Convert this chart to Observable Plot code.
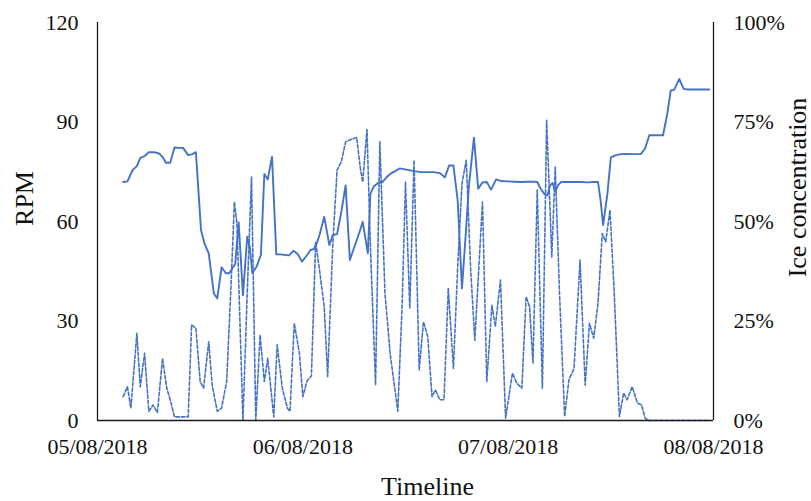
<!DOCTYPE html>
<html>
<head>
<meta charset="utf-8">
<script src="https://cdn.jsdelivr.net/npm/d3@7"></script>
<script src="https://cdn.jsdelivr.net/npm/@observablehq/plot@0.6"></script>
<style>
  html, body { margin: 0; padding: 0; background: #fff; }
  #chart { width: 811px; height: 501px; }
  #chart svg text { font-family: "Liberation Serif", "Times New Roman", serif; }
</style>
</head>
<body>
<div id="chart"></div>
<script>
// Shaft speed (RPM) and ice concentration (%) over three days, hours since 05/08/2018 00:00
const startDate = new Date(Date.UTC(2018, 7, 5));

const rpmHours = [3.0,3.5,4.1,4.6,5.0,5.5,6.0,6.6,7.2,7.6,8.0,8.5,9.0,9.5,10.0,10.6,11.1,11.5,12.1,12.5,
  13.0,13.6,14.0,14.5,15.0,15.4,15.9,16.1,16.5,17.0,17.5,17.8,18.1,18.6,19.1,19.5,19.9,20.4,20.9,21.4,
  22.0,22.4,22.9,23.4,23.9,24.5,24.9,25.3,25.7,26.0,26.5,27.1,27.5,28.0,28.5,29.0,29.5,30.1,30.6,31.0,
  31.6,31.9,32.3,32.8,33.3,33.8,34.3,34.8,35.3,35.8,36.4,37.0,37.8,38.6,39.3,40.0,40.6,41.1,41.6,42.1,
  42.6,43.1,43.4,44.0,44.5,45.0,45.5,46.0,46.6,47.2,47.9,48.7,49.5,50.3,51.0,51.4,51.8,52.2,52.6,52.9,
  53.2,53.5,53.8,54.2,55.0,55.7,56.5,57.3,57.9,58.5,58.8,59.1,59.6,60.0,60.6,61.2,61.8,62.4,62.9,63.5,
  64.0,64.5,65.1,65.6,66.1,66.6,67.0,67.4,68.0,68.5,69.0,69.8,70.6,71.5];
const rpmValues = [71.9,72.1,75.5,76.7,79.2,79.7,80.9,80.9,80.5,79.5,77.7,77.7,82.3,82.2,82.2,80.0,80.3,80.9,57.4,53.4,
  50.4,38.3,36.8,46.2,44.4,44.4,46.4,47.2,59.7,37.8,55.4,52.4,44.4,46.4,49.9,74.3,72.7,79.5,50.1,50.1,
  49.9,49.8,51.2,50.2,47.9,49.9,51.4,51.7,53.9,56.4,61.4,52.9,55.9,56.2,62.9,70.9,48.4,52.9,56.6,59.9,
  50.4,68.4,70.6,71.6,71.9,73.4,74.5,75.2,76.0,75.8,75.5,75.2,74.9,74.9,74.9,74.6,73.3,76.9,76.9,66.4,
  39.8,58.4,70.4,85.3,69.9,71.8,71.9,69.6,72.7,72.2,72.1,72.0,71.9,72.0,72.0,71.9,69.9,68.4,67.9,70.9,
  71.6,68.9,70.9,71.9,71.9,71.9,71.9,71.8,71.9,71.9,66.4,58.9,68.4,79.3,80.0,80.3,80.4,80.3,80.3,80.3,
  82.0,86.0,86.0,86.0,86.0,92.5,99.5,99.7,103.0,100.0,99.8,99.8,99.8,99.8];

const iceHours = [3.0,3.5,3.9,4.6,5.0,5.5,6.0,6.5,7.0,7.6,8.1,8.5,9.0,9.7,10.6,11.0,11.5,12.0,12.4,13.0,
  13.4,14.0,14.5,15.1,15.6,16.0,16.3,17.0,17.5,18.0,18.5,19.0,19.5,19.9,20.6,21.0,21.6,22.2,22.5,23.0,
  23.6,24.0,24.5,25.0,25.5,26.0,26.5,26.9,27.5,28.0,28.5,29.0,29.6,30.3,30.7,31.0,31.5,31.9,32.5,33.0,
  33.6,34.2,35.1,35.6,36.0,36.5,37.0,37.6,38.1,38.6,39.1,39.5,40.0,40.5,41.0,41.6,42.1,42.6,43.1,43.6,
  44.1,45.0,45.5,46.1,46.5,47.1,47.7,48.5,49.0,49.6,50.1,50.5,50.9,51.4,52.0,52.5,53.1,53.5,54.0,54.6,
  55.1,55.7,56.4,57.0,57.5,58.0,58.5,59.0,59.4,59.9,60.4,61.0,61.5,61.9,62.5,63.1,63.6,64.0,64.5,71.5];
const iceValues = [6.0,8.5,3.1,21.9,8.5,16.9,2.3,3.9,2.0,15.6,8.1,5.2,0.9,0.9,0.9,24.0,23.2,9.8,8.1,19.8,
  8.9,2.3,3.1,9.8,33.6,54.9,49.5,0,32.0,61.2,0,21.5,9.8,15.6,0.9,19.0,8.1,3.1,2.3,24.4,
  16.9,6.0,10.0,11.2,44.9,37.0,28.6,11.0,44.1,62.9,65.0,70.0,70.6,71.1,63.7,59.9,73.1,43.6,8.9,70.0,
  32.0,16.9,2.3,28.6,59.9,28.2,65.4,12.7,24.8,21.1,6.0,7.7,5.2,5.2,33.2,13.1,38.6,59.5,65.4,38.6,
  20.2,54.9,9.8,29.0,23.6,35.3,0.6,11.9,9.4,8.1,31.1,28.6,14.4,57.9,8.1,75.4,41.1,63.7,32.0,1.0,
  10.2,13.1,40.3,8.9,24.4,20.7,29.4,47.0,44.9,52.9,32.0,1.0,6.9,5.2,8.5,4.4,3.9,0.6,0,0];

// Axis ticks
const dateTicks = ["2018-08-05","2018-08-06","2018-08-07","2018-08-08"];
const rpmTicks = [0, 30, 60, 90, 120];
const iceTicks = [0, 25, 50, 75, 100];
const rpmMax = 120;
const iceToRpm = rpmMax / 100; // 100% ice sits at the top of the RPM axis

const atHour = h => new Date(startDate.getTime() + h * 3600 * 1000);
const rpmData = rpmHours.map((h, i) => ({date: atHour(h), rpm: rpmValues[i]}));
const iceData = iceHours.map((h, i) => ({date: atHour(h), ice: iceValues[i]}));
const tickDates = dateTicks.map(s => new Date(s + "T00:00:00Z"));
const xDomain = [tickDates[0], tickDates[tickDates.length - 1]];

const blue = "#4472C4";
const axisColor = "#1a1a1a";
const serif = "'Liberation Serif', 'Times New Roman', serif";

const title = (label, options) => Plot.text([label], {
  text: d => d, textAnchor: "middle", lineAnchor: "middle",
  fontSize: 26, fontFamily: serif, fill: "#111", ...options
});

const chart = Plot.plot({
  width: 811,
  height: 501,
  marginLeft: 97,
  marginRight: 98,
  marginTop: 22,
  marginBottom: 81,
  style: {
    fontFamily: serif,
    fontSize: "22px",
    color: "#111",
    background: "#fff"
  },
  x: {type: "utc", domain: xDomain},
  y: {domain: [0, rpmMax]},
  marks: [
    Plot.lineY(rpmData, {x: "date", y: "rpm", stroke: blue, strokeWidth: 1.9}),
    Plot.lineY(iceData, {x: "date", y: d => d.ice * iceToRpm, stroke: blue, strokeWidth: 1.6,
      strokeDasharray: "3.5,2"}),
    Plot.ruleY([0], {stroke: axisColor, strokeWidth: 1.3}),
    Plot.ruleX([xDomain[0]], {stroke: axisColor, strokeWidth: 1.3}),
    Plot.ruleX([xDomain[1]], {stroke: axisColor, strokeWidth: 1.3}),
    Plot.axisY({anchor: "left", ticks: rpmTicks, tickSize: 0, tickPadding: 19, label: null,
      fontFamily: serif, fontVariant: "normal"}),
    Plot.axisY({anchor: "right", ticks: iceTicks.map(p => p * iceToRpm),
      tickFormat: v => `${Math.round(v / iceToRpm)}%`, tickSize: 0, tickPadding: 20, label: null,
      fontFamily: serif, fontVariant: "normal"}),
    Plot.axisX({ticks: tickDates, tickFormat: d3.utcFormat("%d/%m/%Y"), tickSize: 0, tickPadding: 18,
      label: null, fontFamily: serif, fontVariant: "normal"}),
    title("RPM", {frameAnchor: "left", rotate: -90, dx: -73, dy: -23}),
    title("Ice concentration", {frameAnchor: "right", rotate: -90, dx: 84, dy: -34}),
    title("Timeline", {frameAnchor: "bottom", dx: 22, dy: 66})
  ]
});

document.getElementById("chart").appendChild(chart);
</script>
</body>
</html>
